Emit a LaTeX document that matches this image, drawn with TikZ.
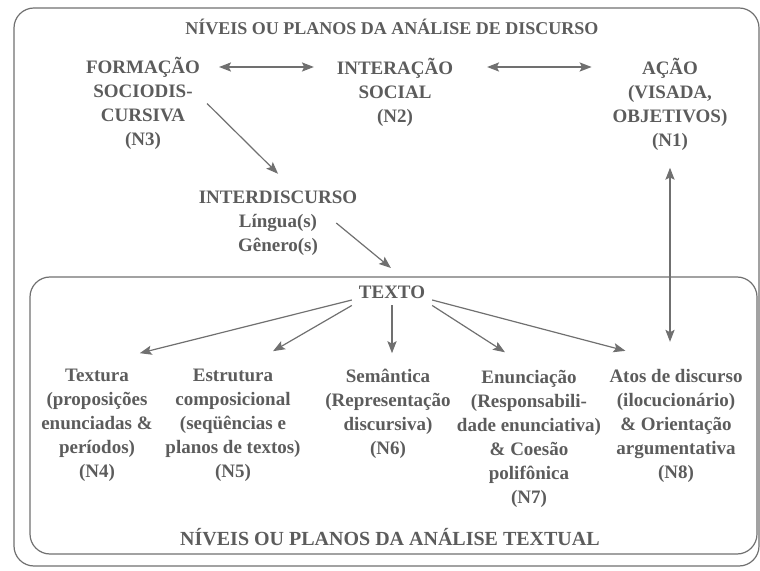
\documentclass[tikz,border=0pt]{standalone}
\usepackage{fontspec}
\setmainfont{Liberation Serif}
\usetikzlibrary{arrows.meta,positioning}

\definecolor{inkgray}{RGB}{92,92,92}
\definecolor{rulegray}{RGB}{112,112,112}

\tikzset{
	lvl/.style={align=center,text=inkgray,font=\bfseries\fontsize{9.5}{12}\selectfont},
	head/.style={text=inkgray,font=\bfseries\fontsize{9}{10}\selectfont},
	foot/.style={text=inkgray,font=\bfseries\fontsize{10}{11}\selectfont},
	frame/.style={draw=rulegray,line width=0.6pt,rounded corners=10pt},
	arr/.style={draw=rulegray,line width=0.6pt,-{Stealth[length=6pt,width=4.6pt,inset=1.2pt]}},
	dbl/.style={arr,{Stealth[length=6pt,width=4.6pt,inset=1.2pt]}-{Stealth[length=6pt,width=4.6pt,inset=1.2pt]}}
}

\begin{document}
\begin{tikzpicture}[x=0.5pt,y=-0.5pt]
	\useasboundingbox (0,0) rectangle (760,571);
	
	% frames
	\draw[frame] (14,8) rectangle (759,566);
	\draw[frame] (30,277) rectangle (757,554);
	
	\node[head] (top) at (392,27) {NÍVEIS OU PLANOS DA ANÁLISE DE DISCURSO};
	\node[foot] (bottom) at (390,537) {NÍVEIS OU PLANOS DA ANÁLISE TEXTUAL};
	
	% discourse levels
	\node[lvl] (n3) at (143,103.5) {FORMAÇÃO\\SOCIODIS-\\CURSIVA\\(N3)};
	\node[lvl] (n2) at (395,92) {INTERAÇÃO\\SOCIAL\\(N2)};
	\node[lvl] (n1) at (670,104.5) {AÇÃO\\(VISADA,\\OBJETIVOS)\\(N1)};
	\node[lvl] (interd) at (278,223) {INTERDISCURSO\\Língua(s)\\Gênero(s)};
	\coordinate (rowtop) at (0,67);
	
	% textual levels
	\node[lvl] (texto) at (392,292) {TEXTO};
	\node[lvl] (textura) at (97,425.5) {Textura\\(proposições\\enunciadas \&\\períodos)\\(N4)};
	\node[lvl] (estrutura) at (233,425.5) {Estrutura\\composicional\\(seqüências e\\planos de textos)\\(N5)};
	\node[lvl] (semantica) at (388,414) {Semântica\\(Representação\\discursiva)\\(N6)};
	\node[lvl] (enunc) at (529,439) {Enunciação\\(Responsabili-\\dade enunciativa)\\\& Coesão\\polifônica\\(N7)};
	\node[lvl] (atos) at (676,425.5) {Atos de discurso\\(ilocucionário)\\\& Orientação\\argumentativa\\(N8)};
	
	\draw[dbl,shorten <=6pt,shorten >=8pt] (n3.east |- rowtop) -- (n2.west |- rowtop);
	\draw[dbl,shorten <=13.5pt,shorten >=7pt] (n2.east |- rowtop) -- (n1.west |- rowtop);
	\draw[arr,shorten >=7pt] (n3.east) -- ([xshift=5pt]interd.north);
	\draw[arr,shorten >=2pt] ([xshift=-14pt]interd.east) -- ([shift={(2,-8)}]texto.north);
	\draw[arr] ([yshift=-4pt]texto.west) -- ([shift={(-20,-9)}]textura.north east);
	\draw[arr] (texto.south west) -- ([shift={(40,-11)}]estrutura.north);
	\draw[arr,shorten >=4.5pt] (texto.south) -- (texto.south |- semantica.north);
	\draw[arr] (texto.south east) -- ([shift={(-24,-11)}]enunc.north);
	\draw[arr] ([yshift=-4pt]texto.east) -- ([shift={(23,-11)}]atos.north west);
	\draw[dbl,shorten <=5pt,shorten >=10pt] (n1.south) -- (n1.south |- atos.north);
	
\end{tikzpicture}
\end{document}
